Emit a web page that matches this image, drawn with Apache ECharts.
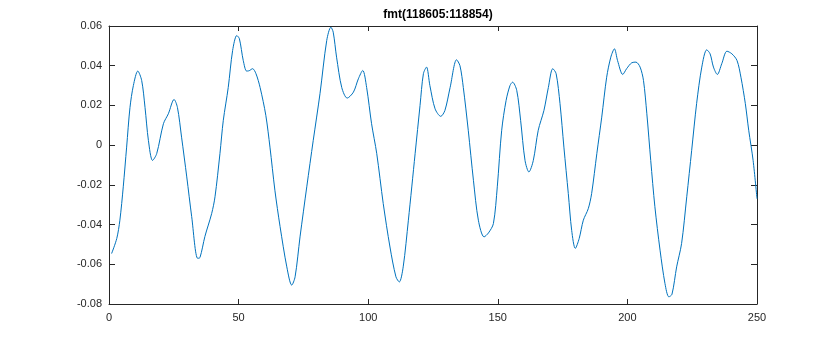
<!DOCTYPE html>
<html>
<head>
<meta charset="utf-8">
<script src="https://cdn.jsdelivr.net/npm/echarts@6/dist/echarts.min.js"></script>
<style>html,body{margin:0;padding:0;background:#fff;}#c{width:837px;height:342px;}</style>
</head>
<body>
<div id="c"></div>
<script>
const titleText = 'fmt(118605:118854)';
const xTicks = [0, 50, 100, 150, 200, 250];
const yTicks = [-0.08, -0.06, -0.04, -0.02, 0, 0.02, 0.04, 0.06];
const sampleX = [1,3,4.2,5.5,6.8,8.1,9.4,11.1,12.6,13.9,15.2,16.8,18.4,21,22.9,25.1,26.4,28,30,31.9,34.2,35.1,37,39.6,40.9,42.8,44.1,46,47.7,49.3,50.3,51.8,53.1,54.1,55.4,56.7,58.3,60.5,62.1,64,66,68.6,70.5,71.8,73.7,76.3,78.8,81.4,84,85.6,86.5,87.8,89.8,91.9,94.3,96.2,97.9,99.4,101.3,103.3,105.8,108.4,110.7,112,113.5,115.5,118.1,120,121.3,122.5,123.8,125.8,128,129.6,131.6,134.1,135.4,136.7,138.6,140.6,142.5,144.7,146.4,148.3,149.8,151.5,153.2,154.7,155.7,157.3,158.8,160.5,162,163.7,165.6,167.8,169.5,171.2,172.5,174,175.5,177.2,178.5,179.9,181.4,183,184.9,186.2,188.2,190.1,192,193.6,195,196.2,198.2,199.7,201.7,203.3,204.9,206.2,207.5,209,210.6,212.6,214.5,216,217.2,219,220.9,222.9,224.8,226.7,228.7,230.6,231.9,233.2,234.7,236.4,238.4,240.3,242.3,243.8,245.5,246.8,248.5,250];
const sampleY = [-0.0546,-0.047,-0.0378,-0.021,-0.001,0.019,0.030,0.0373,0.0326,0.019,0.0024,-0.0077,-0.0043,0.0108,0.0158,0.023,0.019,0.004,-0.016,-0.036,-0.057,-0.0566,-0.046,-0.0345,-0.026,-0.0043,0.0125,0.029,0.0477,0.0552,0.0536,0.0426,0.0373,0.0375,0.0385,0.036,0.029,0.015,-0.001,-0.0227,-0.041,-0.0613,-0.0705,-0.0663,-0.0462,-0.021,0.0024,0.0259,0.0527,0.0594,0.0569,0.0443,0.029,0.0237,0.0267,0.0334,0.0376,0.029,0.0108,-0.0043,-0.0294,-0.0513,-0.0663,-0.0689,-0.0613,-0.0378,-0.0043,0.020,0.036,0.0393,0.030,0.0183,0.0145,0.0175,0.029,0.043,0.040,0.029,0.0075,-0.0177,-0.0378,-0.0462,-0.0442,-0.0395,-0.021,0.0075,0.0225,0.030,0.0317,0.0276,0.0125,-0.0077,-0.0135,-0.0077,0.0075,0.0175,0.029,0.0385,0.036,0.0209,-0.001,-0.0244,-0.0429,-0.052,-0.047,-0.0378,-0.032,-0.0244,-0.0043,0.0141,0.0342,0.0443,0.0485,0.0426,0.0356,0.0385,0.0415,0.0418,0.0393,0.0326,0.0158,-0.0077,-0.031,-0.0529,-0.0697,-0.0764,-0.0751,-0.0613,-0.0496,-0.026,-0.0026,0.0209,0.0393,0.048,0.046,0.0393,0.0356,0.041,0.0473,0.046,0.0426,0.0342,0.0209,0.0075,-0.0077,-0.027];

const data = sampleX.map((x, i) => [x, sampleY[i]]);
const font = 'Liberation Sans, Arial, Helvetica, sans-serif';
const axisCol = '#262626';
const fmtY = v => Math.abs(v) < 1e-9 ? '0' : v.toFixed(2);

const chart = echarts.init(document.getElementById('c'), null, {renderer: 'canvas'});
const baseX = {
  type: 'value', min: xTicks[0], max: xTicks[xTicks.length - 1], interval: 50,
  axisLine: {show: true, onZero: false, lineStyle: {color: axisCol, width: 1}},
  axisTick: {show: true, inside: true, length: 5, lineStyle: {color: axisCol}},
  splitLine: {show: false}
};
const baseY = {
  type: 'value', min: yTicks[0], max: yTicks[yTicks.length - 1], interval: 0.02,
  axisLine: {show: true, onZero: false, lineStyle: {color: axisCol, width: 1}},
  axisTick: {show: true, inside: true, length: 6, lineStyle: {color: axisCol}},
  splitLine: {show: false}
};
chart.setOption({
  animation: false,
  backgroundColor: '#fff',
  title: {
    text: titleText, left: 433, top: 4, textAlign: 'center',
    textStyle: {fontFamily: font, fontSize: 12, fontWeight: 'bold', color: '#000'}
  },
  grid: {left: 109, right: 80, top: 26, bottom: 38, containLabel: false},
  xAxis: [
    Object.assign({}, baseX, {position: 'bottom',
      axisLabel: {show: true, fontFamily: font, fontSize: 11, color: axisCol, margin: 8}}),
    Object.assign({}, baseX, {position: 'top', axisLabel: {show: false}})
  ],
  yAxis: [
    Object.assign({}, baseY, {position: 'left',
      axisLabel: {show: true, fontFamily: font, fontSize: 11, color: axisCol, margin: 7, formatter: fmtY}}),
    Object.assign({}, baseY, {position: 'right', axisLabel: {show: false}})
  ],
  series: [{
    type: 'line', data: data, xAxisIndex: 0, yAxisIndex: 0,
    showSymbol: false, smooth: 0.3,
    lineStyle: {color: '#0072BD', width: 1}
  }]
});
</script>
</body>
</html>
